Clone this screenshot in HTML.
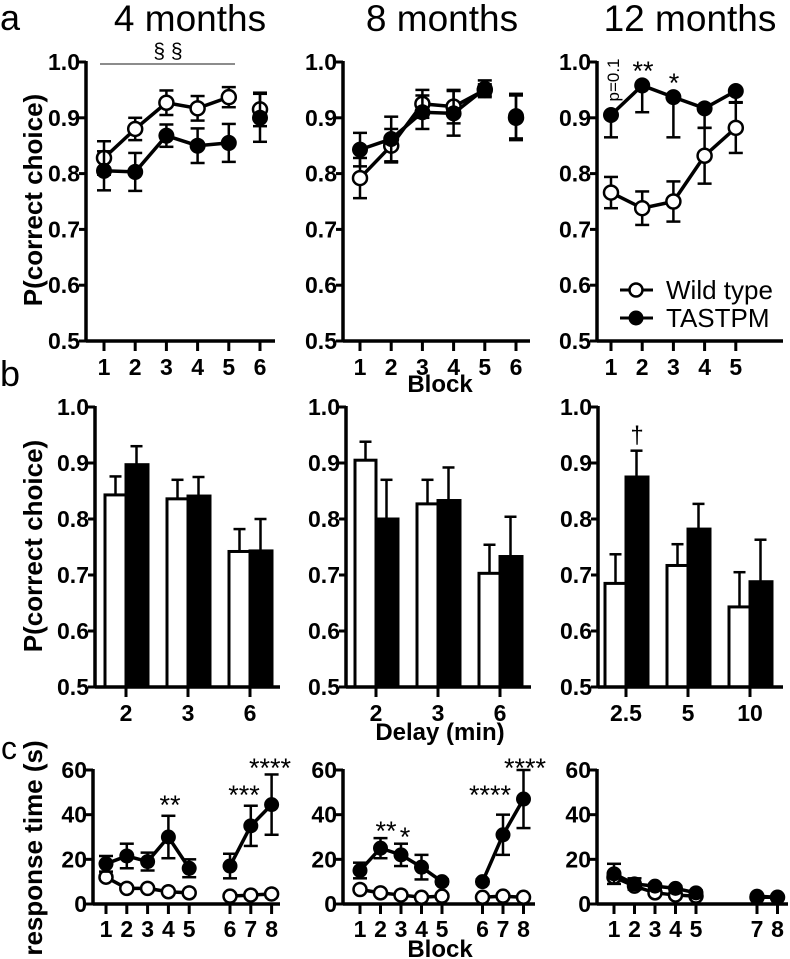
<!DOCTYPE html>
<html><head><meta charset="utf-8"><style>
body{margin:0;background:#fff;}
svg{display:block;font-family:"Liberation Sans",Arial,sans-serif;}
</style></head><body>
<svg id="fig" width="790" height="959" viewBox="0 0 790 959" xmlns="http://www.w3.org/2000/svg">
<g font-size="36">
<text x="0" y="30">a</text>
<text x="0" y="386">b</text>
<text x="1" y="759" font-size="32">c</text>
</g>
<g font-size="37" text-anchor="middle">
<text x="190" y="31">4 months</text>
<text x="442" y="31">8 months</text>
<text x="690" y="31">12 months</text>
</g>
<g font-weight="bold" font-size="26" text-anchor="middle">
<text transform="translate(42,200) rotate(-90)">P(correct choice)</text>
<text transform="translate(42,546) rotate(-90)">P(correct choice)</text>
<text transform="translate(42,848) rotate(-90)">response time (s)</text>
<text x="440" y="392" font-size="24">Block</text>
<text x="440" y="740" font-size="24">Delay (min)</text>
<text x="440" y="957" font-size="24">Block</text>
</g>
<g>
<line x1="620" y1="290" x2="653" y2="290" stroke="#000" stroke-width="3"/>
<circle cx="636" cy="290" r="6.5" fill="#fff" stroke="#000" stroke-width="2.5"/>
<text x="666" y="299" font-size="26">Wild type</text>
<line x1="620" y1="318" x2="653" y2="318" stroke="#000" stroke-width="3"/>
<circle cx="636" cy="318" r="7.5" fill="#000"/>
<text x="666" y="327" font-size="26">TASTPM</text>
</g>
<g text-anchor="middle">
<line x1="100" y1="64" x2="235" y2="64" stroke="#666" stroke-width="1.5"/>
<text x="168" y="58" font-size="21">§ §</text>
<text transform="translate(619,80) rotate(-90)" font-size="17">p=0.1</text>
<text x="643" y="80" font-size="27">**</text>
<text x="674" y="92" font-size="27">*</text>
<text x="637" y="443" font-size="24">†</text>
<text x="170" y="814" font-size="27">**</text>
<text x="244" y="804" font-size="27">***</text>
<text x="270" y="777" font-size="27">****</text>
<text x="386" y="840" font-size="27">**</text>
<text x="405" y="846" font-size="27">*</text>
<text x="490" y="804" font-size="27">****</text>
<text x="525" y="777" font-size="27">****</text>
</g>
</svg>
<script>
// ---- Panel a data ----
const aBlocks1 = [1,2,3,4,5,6];
const aWt4 = [0.828,0.880,0.927,0.917,0.937,0.915];
const aWt4Err = [0.03,0.02,0.022,0.022,0.018,0.03];
const aTg4 = [0.805,0.803,0.868,0.850,0.855,0.900];
const aTg4Err = [0.035,0.034,0.02,0.031,0.034,0.043];
const aWt8 = [0.792,0.850,0.925,0.920,0.950,0.900];
const aWt8Err = [0.036,0.03,0.025,0.03,0.01,0.04];
const aTg8 = [0.843,0.862,0.910,0.908,0.952,0.903];
const aTg8Err = [0.03,0.04,0.03,0.04,0.015,0.04];
const aBlocks3 = [1,2,3,4,5];
const aWt12 = [0.766,0.738,0.750,0.832,0.882];
const aWt12Err = [0.028,0.03,0.036,0.05,0.045];
const aTg12 = [0.905,0.958,0.937,0.917,0.948];
const aTg12Err = [0.04,0.048,0.072,0.035,0.02];
const pTicks = [0.5,0.6,0.7,0.8,0.9,1.0];
const pTickLabels = ["0.5","0.6","0.7","0.8","0.9","1.0"];
// ---- Panel b data ----
const bDelay1 = ["2","3","6"];
const bWt4 = [0.843,0.836,0.742];
const bWt4Err = [0.033,0.034,0.040];
const bTg4 = [0.897,0.841,0.743];
const bTg4Err = [0.033,0.034,0.057];
const bWt8 = [0.905,0.827,0.703];
const bWt8Err = [0.033,0.043,0.051];
const bTg8 = [0.800,0.833,0.733];
const bTg8Err = [0.070,0.059,0.071];
const bDelay3 = ["2.5","5","10"];
const bWt12 = [0.685,0.717,0.643];
const bWt12Err = [0.052,0.038,0.062];
const bTg12 = [0.875,0.782,0.688];
const bTg12Err = [0.047,0.045,0.075];
// ---- Panel c data ----
const cBlocks = [1,2,3,4,5,6,7,8];
const cTg4 = [18,21.5,19,30,16,17,35,44.5];
const cTg4Err = [3.5,5.5,4,9.5,4,5.5,9,13.5];
const cWt4 = [12,7,7,5.5,5,3.5,4,4.5];
const cTg8 = [15,25,22,16.5,10,10,31,47];
const cTg8Err = [3.5,4.5,5,5.5,1,1,9,13];
const cWt8 = [6.5,5,4,3,3.5,3,3.5,3];
const cBlocks12 = [1,2,3,4,5,7,8];
const cTg12 = [13.5,9,8,7,5,3.5,3];
const cTg12Err = [4.5,2.5,1,1,1,0.5,0.5];
const cWt12 = [12,8,5,4,3.5,3,3];
const cTicks = [0,20,40,60];
const cTickLabels = ["0","20","40","60"];

const NS="http://www.w3.org/2000/svg";
const svg=document.getElementById('fig');
function mk(tag,attrs,parent){const e=document.createElementNS(NS,tag);for(const k in attrs)e.setAttribute(k,attrs[k]);(parent||svg).appendChild(e);return e;}
function lin(d0,d1,r0,r1){return v=>r0+(v-d0)*(r1-r0)/(d1-d0);}

function yAxis(g,x,y,ticks,labels,top,bot){
  const ax=mk('line',{x1:x,y1:top-1,x2:x,y2:bot,stroke:'#000','stroke-width':3.5},g);
  
  
  ticks.forEach((t,i)=>{
    mk('line',{x1:x-7,y1:y(t),x2:x,y2:y(t),stroke:'#000','stroke-width':3},g);
    const tx=mk('text',{x:x-6,y:y(t)+8,'text-anchor':'end','font-weight':'bold','font-size':23},g);
    tx.textContent=labels[i];
    
    
  });
}
function xAxis(g,x0,x1,y,pos,labels,ly){
  const ax=mk('line',{x1:x0,y1:y,x2:x1,y2:y,stroke:'#000','stroke-width':3.5},g);
  
  
  pos.forEach((p,i)=>{
    mk('line',{x1:p,y1:y,x2:p,y2:y+10,stroke:'#000','stroke-width':3},g);
    const tx=mk('text',{x:p,y:ly,'text-anchor':'middle','font-weight':'bold','font-size':23},g);
    tx.textContent=labels[i];
    
    
  });
}
function errBar(g,x,y,v,e,up,down,cap){
  const t=y(v+(up?e:0)),b=y(v-(down?e:0));
  mk('line',{x1:x,y1:t,x2:x,y2:b,stroke:'#000','stroke-width':2.5},g);
  if(up)mk('line',{x1:x-cap,y1:t,x2:x+cap,y2:t,stroke:'#000','stroke-width':2.5},g);
  if(down)mk('line',{x1:x-cap,y1:b,x2:x+cap,y2:b,stroke:'#000','stroke-width':2.5},g);
}
function series(g,xs,vals,errs,x,y,filled,r,segments,name,errUp,errDown){
  const sg=mk('g',{},g);
  
  
  segments.forEach(seg=>{
    const pts=seg.map(i=>x(xs[i])+','+y(vals[i])).join(' ');
    if(seg.length>1)mk('polyline',{points:pts,fill:'none',stroke:'#000','stroke-width':3.5},sg);
  });
  vals.forEach((v,i)=>{
    if(errs)errBar(sg,x(xs[i]),y,v,errs[i],errUp,errDown,7);
  });
  vals.forEach((v,i)=>{
    const c=mk('circle',{cx:x(xs[i]),cy:y(v),r:filled?r+1:r,fill:filled?'#000':'#fff',stroke:'#000','stroke-width':filled?0:2.5},sg);
    
    
  });
}
// Panel a
const yA=lin(0.5,1.0,341,62);
function panelA(name,axX,x1,xend,blocks,wt,wtE,tg,tgE,seg,tgUp,tgFirst){
  const g=mk('g',{});
  
  
  const x=lin(1,2,x1,x1+31.2);
  yAxis(g,axX,yA,pTicks,pTickLabels,62,341);
  xAxis(g,axX,xend,341,blocks.map(x),blocks.map(String),375);
  if(tgFirst){
    series(g,blocks,tg,tgE,x,yA,true,7,seg,'tastpm-series',tgUp,true);
    series(g,blocks,wt,wtE,x,yA,false,7,seg,'wild-type-series',true,true);
  } else {
    series(g,blocks,wt,wtE,x,yA,false,7,seg,'wild-type-series',true,true);
    series(g,blocks,tg,tgE,x,yA,true,7,seg,'tastpm-series',tgUp,true);
  }
}
panelA('panel-a-4-months',86,104,275,aBlocks1,aWt4,aWt4Err,aTg4,aTg4Err,[[0,1,2,3,4],[5]],true,false);
panelA('panel-a-8-months',343,360,530,aBlocks1,aWt8,aWt8Err,aTg8,aTg8Err,[[0,1,2,3,4],[5]],true,false);
panelA('panel-a-12-months',597,611,783,aBlocks3,aWt12,aWt12Err,aTg12,aTg12Err,[[0,1,2,3,4]],false,true);
// Panel b
const yB=lin(0.5,1.0,687,407);
function panelB(name,axX,c0,xend,labels,wt,wtE,tg,tgE){
  const g=mk('g',{});
  
  
  const cx=i=>c0+i*62, bw=21;
  labels.forEach((l,i)=>{
    errBar(g,cx(i)-bw/2,yB,wt[i],wtE[i],true,false,6);
    errBar(g,cx(i)+bw/2,yB,tg[i],tgE[i],true,false,6);
    const w=mk('rect',{x:cx(i)-bw,y:yB(wt[i]),width:bw,height:687-yB(wt[i]),fill:'#fff',stroke:'#000','stroke-width':3},g);
    
    
    const b=mk('rect',{x:cx(i),y:yB(tg[i]),width:bw+1,height:687-yB(tg[i]),fill:'#000',stroke:'#000','stroke-width':3},g);
    
    
  });
  yAxis(g,axX,yB,pTicks,pTickLabels,407,687);
  xAxis(g,axX,xend,687,labels.map((l,i)=>cx(i)),labels,721);
}
panelB('panel-b-4-months',95,126,280,bDelay1,bWt4,bWt4Err,bTg4,bTg4Err);
panelB('panel-b-8-months',346,376,531,bDelay1,bWt8,bWt8Err,bTg8,bTg8Err);
panelB('panel-b-12-months',598,626,783,bDelay3,bWt12,bWt12Err,bTg12,bTg12Err);
// Panel c
const yC=lin(0,60,904,770);
function panelC(name,axX,x1,step,xend,blocks,tg,tgE,wt,seg){
  const g=mk('g',{});
  
  
  const x=b=>x1+(b-1)*step+(b>=6?20:0);
  yAxis(g,axX,yC,cTicks,cTickLabels,770,904);
  xAxis(g,axX,xend,904,blocks.map(x),blocks.map(String),937);
  series(g,blocks,wt,null,x,yC,false,6.5,seg,'wild-type-series',true,true);
  series(g,blocks,tg,tgE,x,yC,true,6.5,seg,'tastpm-series',true,true);
}
panelC('panel-c-4-months',93,106,20.8,280,cBlocks,cTg4,cTg4Err,cWt4,[[0,1,2,3,4],[5,6,7]]);
panelC('panel-c-8-months',343,360,20.5,535,cBlocks,cTg8,cTg8Err,cWt8,[[0,1,2,3,4],[5,6,7]]);
panelC('panel-c-12-months',597,614,20.5,788,cBlocks12,cTg12,cTg12Err,cWt12,[[0,1,2,3,4],[5,6]]);
</script>
</body></html>
